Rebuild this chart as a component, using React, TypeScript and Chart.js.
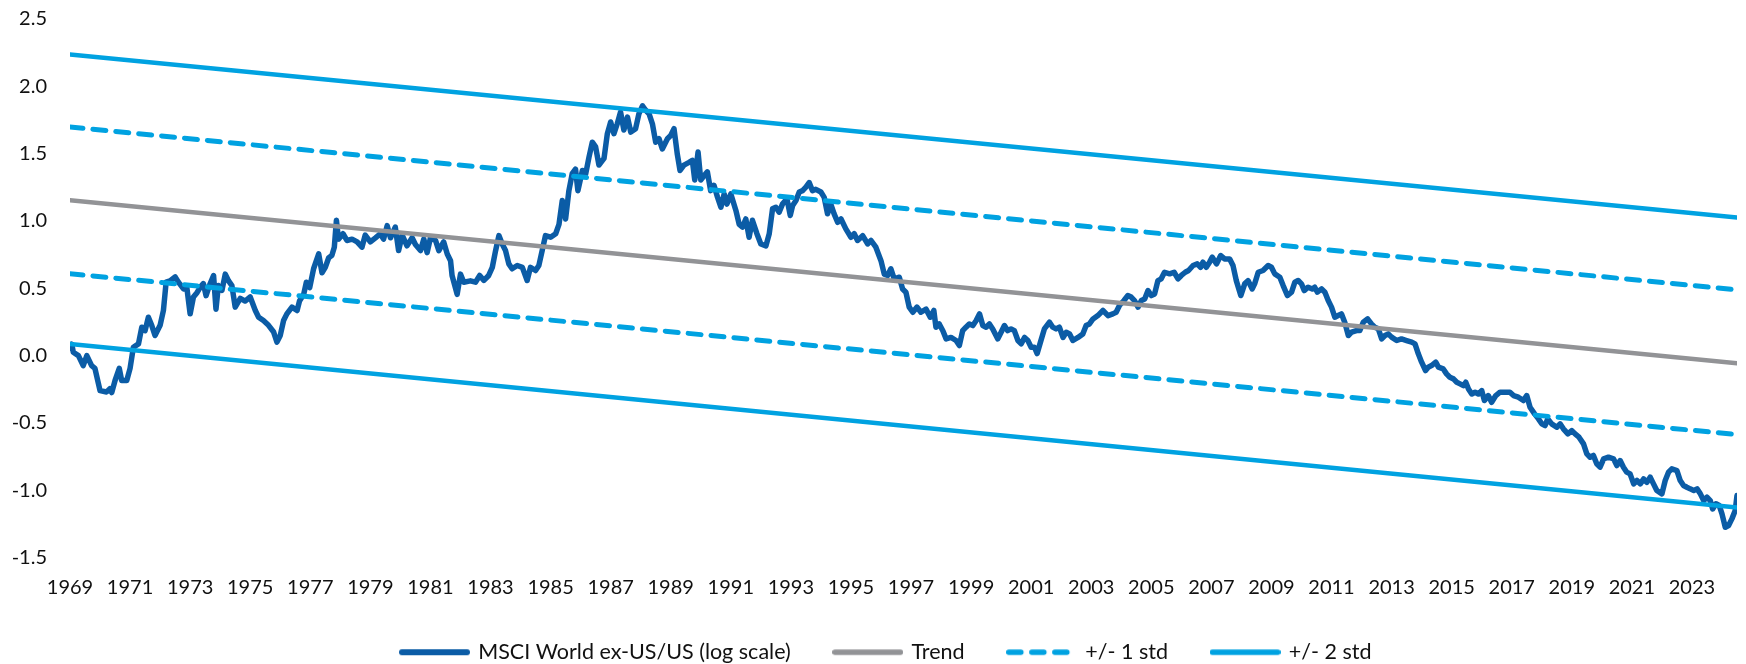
import React, { useEffect, useRef } from "react";
import { Chart, registerables } from "chart.js";

Chart.register(...registerables);

// Decimal-year dates of the MSCI World ex-US/US relative series (log scale)
const MSCI_DATES: number[] = [
  1969.00, 1969.06, 1969.11, 1969.28, 1969.44, 1969.56, 1969.72, 1969.83, 1970.00, 1970.22,
  1970.33, 1970.39, 1970.50, 1970.64, 1970.72, 1970.89, 1971.00, 1971.11, 1971.28, 1971.39,
  1971.50, 1971.61, 1971.72, 1971.83, 1972.00, 1972.11, 1972.20, 1972.33, 1972.50, 1972.61,
  1972.78, 1972.89, 1973.00, 1973.11, 1973.22, 1973.33, 1973.44, 1973.53, 1973.64, 1973.78,
  1973.86, 1973.94, 1974.06, 1974.17, 1974.28, 1974.39, 1974.50, 1974.67, 1974.83, 1975.00,
  1975.17, 1975.28, 1975.44, 1975.61, 1975.78, 1975.89, 1976.00, 1976.11, 1976.22, 1976.39,
  1976.56, 1976.64, 1976.78, 1976.87, 1976.98, 1977.11, 1977.28, 1977.39, 1977.50, 1977.61,
  1977.72, 1977.80, 1977.87, 1977.94, 1978.09, 1978.22, 1978.39, 1978.56, 1978.72, 1978.83,
  1979.00, 1979.17, 1979.33, 1979.44, 1979.56, 1979.67, 1979.83, 1979.94, 1980.06, 1980.22,
  1980.39, 1980.50, 1980.67, 1980.78, 1980.89, 1981.00, 1981.17, 1981.28, 1981.44, 1981.56,
  1981.67, 1981.72, 1981.89, 1982.00, 1982.11, 1982.33, 1982.50, 1982.64, 1982.78, 1982.94,
  1983.06, 1983.17, 1983.28, 1983.39, 1983.50, 1983.61, 1983.72, 1983.89, 1984.06, 1984.22,
  1984.33, 1984.50, 1984.61, 1984.72, 1984.83, 1985.00, 1985.17, 1985.28, 1985.39, 1985.50,
  1985.61, 1985.72, 1985.83, 1985.91, 1986.06, 1986.17, 1986.28, 1986.39, 1986.50, 1986.61,
  1986.78, 1986.89, 1987.00, 1987.11, 1987.22, 1987.33, 1987.44, 1987.56, 1987.67, 1987.83,
  1987.94, 1988.06, 1988.17, 1988.28, 1988.39, 1988.50, 1988.61, 1988.72, 1988.89, 1989.00,
  1989.11, 1989.22, 1989.31, 1989.44, 1989.61, 1989.72, 1989.80, 1989.91, 1990.00, 1990.11,
  1990.22, 1990.33, 1990.44, 1990.56, 1990.67, 1990.78, 1990.87, 1991.00, 1991.17, 1991.28,
  1991.39, 1991.50, 1991.61, 1991.72, 1991.87, 1992.00, 1992.17, 1992.28, 1992.39, 1992.50,
  1992.61, 1992.72, 1992.87, 1992.98, 1993.06, 1993.17, 1993.28, 1993.39, 1993.50, 1993.61,
  1993.72, 1993.83, 1994.00, 1994.11, 1994.22, 1994.33, 1994.44, 1994.56, 1994.67, 1994.83,
  1995.00, 1995.11, 1995.22, 1995.39, 1995.56, 1995.67, 1995.83, 1996.00, 1996.11, 1996.22,
  1996.33, 1996.44, 1996.61, 1996.72, 1996.83, 1996.94, 1997.06, 1997.20, 1997.33, 1997.50,
  1997.64, 1997.76, 1997.83, 1997.94, 1998.06, 1998.17, 1998.33, 1998.50, 1998.61, 1998.72,
  1998.83, 1998.94, 1999.06, 1999.17, 1999.28, 1999.39, 1999.50, 1999.61, 1999.72, 1999.89,
  2000.00, 2000.11, 2000.22, 2000.33, 2000.44, 2000.56, 2000.67, 2000.78, 2000.89, 2001.00,
  2001.11, 2001.20, 2001.31, 2001.44, 2001.61, 2001.72, 2001.83, 2001.94, 2002.06, 2002.17,
  2002.28, 2002.39, 2002.56, 2002.72, 2002.83, 2002.94, 2003.06, 2003.22, 2003.39, 2003.56,
  2003.72, 2003.83, 2003.94, 2004.09, 2004.22, 2004.33, 2004.44, 2004.56, 2004.67, 2004.78,
  2004.89, 2005.00, 2005.11, 2005.22, 2005.33, 2005.44, 2005.61, 2005.76, 2005.89, 2006.00,
  2006.13, 2006.24, 2006.39, 2006.53, 2006.64, 2006.72, 2006.83, 2006.94, 2007.03, 2007.17,
  2007.31, 2007.44, 2007.61, 2007.72, 2007.83, 2007.98, 2008.11, 2008.22, 2008.36, 2008.44,
  2008.56, 2008.72, 2008.89, 2009.00, 2009.11, 2009.28, 2009.39, 2009.53, 2009.67, 2009.78,
  2009.89, 2010.00, 2010.09, 2010.22, 2010.36, 2010.44, 2010.53, 2010.67, 2010.78, 2010.89,
  2011.00, 2011.11, 2011.22, 2011.33, 2011.44, 2011.56, 2011.67, 2011.83, 2011.94, 2012.06,
  2012.20, 2012.33, 2012.44, 2012.56, 2012.67, 2012.78, 2012.89, 2013.00, 2013.17, 2013.33,
  2013.50, 2013.67, 2013.78, 2013.89, 2014.00, 2014.13, 2014.22, 2014.33, 2014.47, 2014.56,
  2014.72, 2014.83, 2014.94, 2015.06, 2015.17, 2015.28, 2015.39, 2015.47, 2015.56, 2015.67,
  2015.78, 2015.89, 2016.00, 2016.09, 2016.22, 2016.33, 2016.47, 2016.61, 2016.78, 2016.94,
  2017.06, 2017.22, 2017.39, 2017.50, 2017.61, 2017.76, 2017.89, 2018.00, 2018.11, 2018.20,
  2018.33, 2018.50, 2018.61, 2018.72, 2018.87, 2019.00, 2019.11, 2019.24, 2019.39, 2019.50,
  2019.61, 2019.72, 2019.83, 2019.94, 2020.06, 2020.22, 2020.39, 2020.50, 2020.61, 2020.72,
  2020.83, 2020.94, 2021.06, 2021.17, 2021.28, 2021.39, 2021.50, 2021.61, 2021.72, 2021.83,
  2022.00, 2022.11, 2022.22, 2022.33, 2022.50, 2022.61, 2022.72, 2022.83, 2022.94, 2023.06,
  2023.17, 2023.28, 2023.39, 2023.50, 2023.61, 2023.69, 2023.80, 2023.91, 2024.00, 2024.11,
  2024.22, 2024.33, 2024.44, 2024.50,
];

const MSCI_VALUES: number[] = [
  0.04, 0.07, 0.01, -0.015, -0.09, -0.015, -0.09, -0.11, -0.275, -0.285,
  -0.26, -0.29, -0.2, -0.11, -0.2, -0.2, -0.11, 0.047, 0.072, 0.196,
  0.17, 0.27, 0.21, 0.134, 0.21, 0.32, 0.53, 0.54, 0.57, 0.53,
  0.48, 0.49, 0.295, 0.42, 0.45, 0.49, 0.52, 0.43, 0.505, 0.58,
  0.33, 0.505, 0.47, 0.59, 0.54, 0.505, 0.345, 0.41, 0.39, 0.42,
  0.32, 0.27, 0.245, 0.21, 0.16, 0.085, 0.134, 0.245, 0.295, 0.345,
  0.32, 0.39, 0.44, 0.53, 0.49, 0.63, 0.74, 0.6, 0.64, 0.71,
  0.73, 0.79, 0.99, 0.85, 0.89, 0.84, 0.85, 0.83, 0.79, 0.88,
  0.83, 0.86, 0.89, 0.85, 0.95, 0.86, 0.94, 0.765, 0.88, 0.8,
  0.86, 0.81, 0.765, 0.85, 0.75, 0.86, 0.84, 0.765, 0.83, 0.74,
  0.69, 0.58, 0.44, 0.59, 0.53, 0.54, 0.53, 0.58, 0.543, 0.58,
  0.64, 0.765, 0.876, 0.814, 0.765, 0.666, 0.63, 0.654, 0.64, 0.543,
  0.64, 0.617, 0.654, 0.765, 0.876, 0.864, 0.89, 0.96, 1.137, 1.0,
  1.21, 1.336, 1.37, 1.21, 1.36, 1.336, 1.46, 1.57, 1.535, 1.4,
  1.45, 1.633, 1.72, 1.633, 1.707, 1.794, 1.66, 1.757, 1.645, 1.67,
  1.78, 1.84, 1.807, 1.78, 1.707, 1.57, 1.596, 1.52, 1.596, 1.62,
  1.67, 1.48, 1.36, 1.4, 1.42, 1.435, 1.29, 1.497, 1.29, 1.32,
  1.35, 1.21, 1.25, 1.16, 1.087, 1.186, 1.11, 1.186, 1.063, 0.96,
  0.94, 1.0, 0.864, 0.99, 0.89, 0.814, 0.8, 0.89, 1.075, 1.087,
  1.05, 1.11, 1.15, 1.026, 1.1, 1.137, 1.2, 1.21, 1.236, 1.27,
  1.21, 1.22, 1.2, 1.16, 1.038, 1.11, 1.038, 0.975, 1.0, 0.926,
  0.864, 0.89, 0.84, 0.876, 0.814, 0.84, 0.79, 0.69, 0.59, 0.58,
  0.63, 0.555, 0.567, 0.48, 0.456, 0.345, 0.307, 0.345, 0.307, 0.33,
  0.27, 0.32, 0.196, 0.22, 0.17, 0.109, 0.12, 0.097, 0.06, 0.17,
  0.196, 0.22, 0.208, 0.245, 0.295, 0.208, 0.196, 0.22, 0.183, 0.109,
  0.158, 0.208, 0.17, 0.183, 0.17, 0.097, 0.072, 0.12, 0.097, 0.047,
  0.047, 0.0, 0.085, 0.183, 0.233, 0.196, 0.183, 0.196, 0.12, 0.158,
  0.146, 0.097, 0.12, 0.146, 0.208, 0.22, 0.257, 0.282, 0.32, 0.282,
  0.295, 0.307, 0.357, 0.394, 0.431, 0.42, 0.394, 0.345, 0.394, 0.406,
  0.468, 0.431, 0.443, 0.542, 0.555, 0.604, 0.592, 0.604, 0.555, 0.58,
  0.604, 0.617, 0.654, 0.666, 0.641, 0.679, 0.641, 0.679, 0.716, 0.666,
  0.728, 0.703, 0.703, 0.654, 0.542, 0.431, 0.518, 0.542, 0.48, 0.518,
  0.604, 0.617, 0.654, 0.641, 0.592, 0.567, 0.505, 0.431, 0.456, 0.53,
  0.543, 0.518, 0.468, 0.493, 0.48, 0.493, 0.456, 0.48, 0.456, 0.394,
  0.345, 0.27, 0.283, 0.295, 0.233, 0.134, 0.159, 0.171, 0.171, 0.233,
  0.258, 0.22, 0.196, 0.184, 0.109, 0.134, 0.146, 0.122, 0.097, 0.109,
  0.097, 0.085, 0.072, -0.002, -0.064, -0.126, -0.101, -0.089, -0.064, -0.101,
  -0.114, -0.151, -0.176, -0.188, -0.213, -0.225, -0.238, -0.213, -0.263, -0.3,
  -0.287, -0.3, -0.275, -0.349, -0.312, -0.362, -0.312, -0.287, -0.287, -0.287,
  -0.312, -0.324, -0.349, -0.312, -0.399, -0.448, -0.485, -0.522, -0.535, -0.485,
  -0.522, -0.547, -0.522, -0.559, -0.597, -0.572, -0.597, -0.621, -0.671, -0.745,
  -0.77, -0.757, -0.819, -0.844, -0.782, -0.77, -0.782, -0.832, -0.795, -0.844,
  -0.881, -0.894, -0.968, -0.943, -0.968, -0.931, -0.956, -0.918, -0.968, -1.017,
  -1.042, -0.943, -0.881, -0.856, -0.869, -0.943, -0.98, -0.993, -1.005, -1.017,
  -1.005, -1.042, -1.092, -1.067, -1.092, -1.154, -1.116, -1.129, -1.191, -1.29,
  -1.277, -1.228, -1.166, -1.055,
];

// Straight trend and band lines: values at the start and end of the period
const BAND_DATES: number[] = [1969, 2024.5];
const TREND: number[] = [1.138, -0.072];
const PLUS_1_STD: number[] = [1.683, 0.473];
const MINUS_1_STD: number[] = [0.593, -0.602];
const PLUS_2_STD: number[] = [2.221, 1.01];
const MINUS_2_STD: number[] = [0.072, -1.143];

// Axis ticks
const YEAR_TICKS: number[] = [
  1969, 1971, 1973, 1975, 1977, 1979, 1981, 1983, 1985, 1987, 1989, 1991, 1993, 1995,
  1997, 1999, 2001, 2003, 2005, 2007, 2009, 2011, 2013, 2015, 2017, 2019, 2021, 2023,
];
const Y_MIN = -1.5;
const Y_MAX = 2.5;
const Y_STEP = 0.5;

const LABEL_MSCI = "MSCI World ex-US/US (log scale)";
const LABEL_TREND = "Trend";
const LABEL_STD1 = "+/- 1 std";
const LABEL_STD2 = "+/- 2 std";

const DARK_BLUE = "#0B5CA6";
const LIGHT_BLUE = "#00A2E1";
const GREY = "#929396";
const TEXT = "#111111";
const FONT_FAMILY = "Lato, 'Open Sans', sans-serif";
const DASH = [12, 11];
const LEGEND_SHIFT = 18;

const toPoints = (xs: number[], ys: number[]) => xs.map((x, i) => ({ x, y: ys[i] }));

// Small legend glyph (a short line segment) for a series
function makeGlyph(color: string, lineWidth: number, dash: number[] | null): HTMLCanvasElement {
  const c = document.createElement("canvas");
  c.width = 71;
  c.height = 10;
  const g = c.getContext("2d");
  if (g) {
    g.strokeStyle = color;
    g.lineWidth = lineWidth;
    g.lineCap = "round";
    if (dash) g.setLineDash(dash);
    g.beginPath();
    g.moveTo(lineWidth / 2, 5);
    g.lineTo(71 - lineWidth / 2, 5);
    g.stroke();
  }
  return c;
}

const legendShift = {
  id: "legendShift",
  afterLayout(chart: any) {
    if (chart.legend) {
      chart.legend.left += LEGEND_SHIFT;
      chart.legend.right += LEGEND_SHIFT;
    }
  },
};

export default function App() {
  const canvasRef = useRef<HTMLCanvasElement | null>(null);

  useEffect(() => {
    if (!canvasRef.current) return;
    const glyphs: HTMLCanvasElement[] = [
      makeGlyph(DARK_BLUE, 6, null),
      makeGlyph(GREY, 5.5, null),
      makeGlyph(LIGHT_BLUE, 5.5, DASH),
      makeGlyph(LIGHT_BLUE, 5.5, null),
    ];
    const lineBase = {
      pointRadius: 0,
      pointHoverRadius: 0,
      tension: 0,
      fill: false,
      borderCapStyle: "round" as const,
      borderJoinStyle: "round" as const,
    };
    const defaultLabels = (Chart as any).defaults.plugins.legend.labels.generateLabels;
    const chart = new Chart(canvasRef.current, {
      type: "line",
      plugins: [legendShift],
      data: {
        datasets: [
          {
            ...lineBase,
            label: LABEL_MSCI,
            data: toPoints(MSCI_DATES, MSCI_VALUES),
            borderColor: DARK_BLUE,
            backgroundColor: DARK_BLUE,
            borderWidth: 5.5,
            order: 10,
          },
          {
            ...lineBase,
            label: LABEL_TREND,
            data: toPoints(BAND_DATES, TREND),
            borderColor: GREY,
            backgroundColor: GREY,
            borderWidth: 4.5,
            order: 1,
          },
          {
            ...lineBase,
            label: LABEL_STD1,
            data: toPoints(BAND_DATES, PLUS_1_STD),
            borderColor: LIGHT_BLUE,
            backgroundColor: LIGHT_BLUE,
            borderWidth: 5,
            borderDash: [13, 10],
            order: 1,
          },
          {
            ...lineBase,
            label: LABEL_STD2,
            data: toPoints(BAND_DATES, PLUS_2_STD),
            borderColor: LIGHT_BLUE,
            backgroundColor: LIGHT_BLUE,
            borderWidth: 4.5,
            order: 1,
          },
          {
            ...lineBase,
            label: LABEL_STD1 + " (lower)",
            data: toPoints(BAND_DATES, MINUS_1_STD),
            borderColor: LIGHT_BLUE,
            backgroundColor: LIGHT_BLUE,
            borderWidth: 5,
            borderDash: [13, 10],
            order: 1,
          },
          {
            ...lineBase,
            label: LABEL_STD2 + " (lower)",
            data: toPoints(BAND_DATES, MINUS_2_STD),
            borderColor: LIGHT_BLUE,
            backgroundColor: LIGHT_BLUE,
            borderWidth: 4.5,
            order: 1,
          },
        ],
      },
      options: {
        animation: false,
        responsive: false,
        maintainAspectRatio: false,
        events: [],
        layout: { padding: { top: 17, right: 9, left: 0, bottom: 0 } },
        plugins: {
          tooltip: { enabled: false },
          title: { display: false },
          legend: {
            display: true,
            position: "bottom",
            align: "center",
            labels: {
              usePointStyle: true,
              pointStyleWidth: 66,
              boxHeight: 20,
              padding: 44,
              color: TEXT,
              font: { family: FONT_FAMILY, size: 21.5 },
              generateLabels: (ch: any) =>
                defaultLabels(ch).map((item: any) => ({
                  ...item,
                  pointStyle: glyphs[item.datasetIndex] || item.pointStyle,
                })),
              filter: (item: any) => item.datasetIndex < 4,
              sort: (a: any, b: any) => a.datasetIndex - b.datasetIndex,
            },
          },
        },
        scales: {
          x: {
            type: "linear",
            min: BAND_DATES[0],
            max: BAND_DATES[1],
            grid: { display: false, drawTicks: false },
            border: { display: false },
            ticks: {
              padding: 20,
              color: TEXT,
              font: { family: FONT_FAMILY, size: 20 },
              maxRotation: 0,
              autoSkip: false,
              callback: (v: any) => String(v),
            },
            afterBuildTicks: (scale: any) => {
              scale.ticks = YEAR_TICKS.map((v) => ({ value: v }));
            },
            afterFit: (scale: any) => {
              scale.height = 42;
              scale.paddingLeft = 0;
              scale.paddingRight = 0;
            },
          },
          y: {
            type: "linear",
            min: Y_MIN,
            max: Y_MAX,
            grid: { display: false, drawTicks: false },
            border: { display: false },
            ticks: {
              stepSize: Y_STEP,
              padding: 23,
              labelOffset: 2,
              color: TEXT,
              font: { family: FONT_FAMILY, size: 20 },
              callback: (v: any) => Number(v).toFixed(1),
            },
            afterFit: (scale: any) => {
              scale.width = 70;
              scale.paddingTop = 0;
              scale.paddingBottom = 0;
            },
          },
        },
      },
    });
    return () => chart.destroy();
  }, []);

  return (
    <div
      style={{
        position: "fixed",
        left: 0,
        top: 0,
        width: 1746,
        height: 664,
        overflow: "hidden",
        background: "#ffffff",
      }}
    >
      <canvas ref={canvasRef} width={1746} height={673} style={{ display: "block" }} />
    </div>
  );
}
